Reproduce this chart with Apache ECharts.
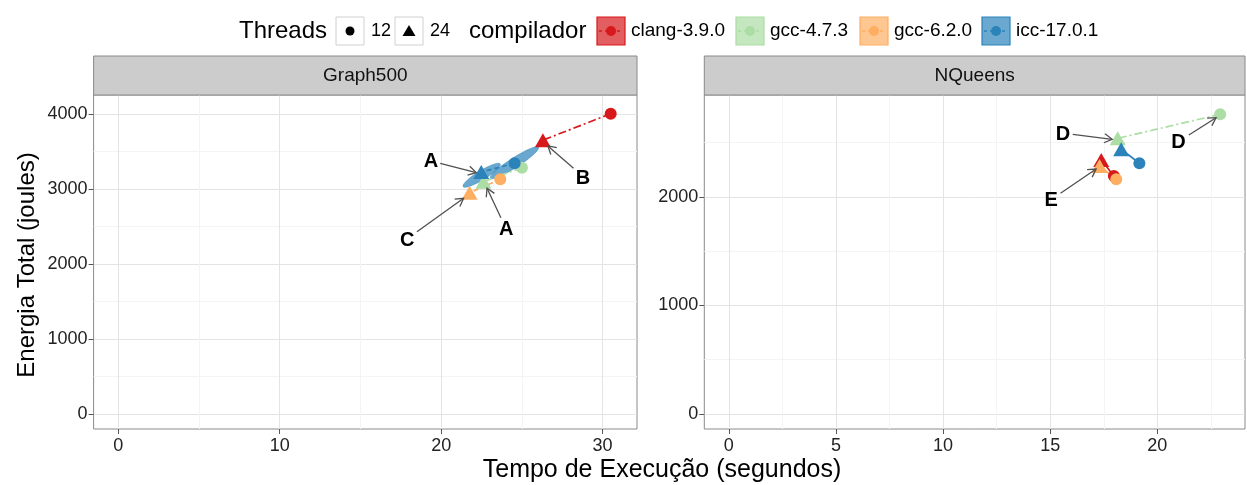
<!DOCTYPE html>
<html><head><meta charset="utf-8">
<script src="https://cdn.jsdelivr.net/npm/echarts@6/dist/echarts.min.js"></script>
<style>html,body{margin:0;padding:0;background:#fff}#c{width:1247px;height:485px}</style>
</head><body><div id="c"></div>
<script>
// ---------------- data ----------------
const compilers = ['clang-3.9.0', 'gcc-4.7.3', 'gcc-6.2.0', 'icc-17.0.1'];
const threadLevels = ['12', '24'];
const panels = ['Graph500', 'NQueens'];
// Graph500 : time (s) and energy (J) per compiler
const g500Time12 = [30.5, 25.0, 23.66, 24.55];
const g500Energy12 = [4000, 3281, 3127, 3340];
const g500Time24 = [26.3, 22.62, 21.76, 22.48];
const g500Energy24 = [3648, 3095, 2948, 3224];
// NQueens
const nqTime12 = [17.97, 22.93, 18.08, 19.16];
const nqEnergy12 = [2192, 2760, 2161, 2309];
const nqTime24 = [17.38, 18.15, 17.30, 18.31];
const nqEnergy24 = [2339, 2539, 2284, 2438];
// icc confidence ellipses (Graph500): centre, major-axis end, minor-axis end
const iccEllCentre = [[22.51, 3180], [24.54, 3347]];
const iccEllMajor = [[23.66, 3331], [26.03, 3553]];
const iccEllMinor = [[22.66, 3128], [24.70, 3292]];
// annotations: label, label position, arrow start, arrow end
const g500AnnLabel = ['A', 'B', 'C', 'A'];
const g500AnnText = [[19.37, 3361], [28.78, 3140], [17.9, 2317], [24.03, 2464]];
const g500AnnFrom = [[19.94, 3340], [28.2, 3273], [18.5, 2428], [23.7, 2615]];
const g500AnnTo = [[22.17, 3215], [26.61, 3571], [21.39, 2873], [22.84, 3007]];
const nqAnnLabel = ['D', 'D', 'E'];
const nqAnnText = [[15.59, 2570], [20.98, 2499], [15.04, 1970]];
const nqAnnFrom = [[16.05, 2576], [21.47, 2570], [15.48, 2032]];
const nqAnnTo = [[17.89, 2530], [22.74, 2729], [17.14, 2256]];
// axis ticks
const g500XTicks = [0, 10, 20, 30];
const g500YTicks = [0, 1000, 2000, 3000, 4000];
const nqXTicks = [0, 5, 10, 15, 20];
const nqYTicks = [0, 1000, 2000];
const xTitle = 'Tempo de Execução (segundos)';
const yTitle = 'Energia Total (joules)';

// ---------------- style ----------------
const F = 'Liberation Sans, Arial, Helvetica, sans-serif';
const colors = ['#D7191C', '#ABDDA4', '#FDAE61', '#2B83BA'];
const fills = ['rgba(215,25,28,0.7)', 'rgba(171,221,164,0.7)', 'rgba(253,174,97,0.7)', 'rgba(43,131,186,0.7)'];
const dotdash = [8, 3, 2, 3];
const lineTypes = [
  [dotdash, dotdash, [5, 3], [5, 3]],
  ['solid', dotdash, 'solid', 'solid']
];
const G = [
  {left: 93.6, top: 95, width: 543.4, height: 334},
  {left: 704.3, top: 95, width: 540.7, height: 334}
];
const ranges = [
  {x: [-1.53, 32.13], y: [-202, 4250], xs: 3, ys: 4},
  {x: [-1.147, 24.09], y: [-140, 2938], xs: 5, ys: 3}
];

function axis(gi, r, split, ticks, isX) {
  return {
    type: 'value', gridIndex: gi, min: r[0], max: r[1], splitNumber: split,
    axisLine: {show: false, onZero: false},
    axisTick: {show: true, length: 5, lineStyle: {color: '#555', width: 1}, customValues: ticks},
    axisLabel: {customValues: ticks, color: '#222', fontSize: 18, fontFamily: F, margin: isX ? 8 : 6,
      formatter: v => (ticks.indexOf(v) >= 0 ? String(v) : '')},
    splitLine: {show: true, lineStyle: {color: '#e4e4e4', width: 1}},
    minorTick: {show: false, splitNumber: 2},
    minorSplitLine: {show: true, lineStyle: {color: '#f4f4f4', width: 1}}
  };
}

const series = [];
const pdata = [
  [g500Time12, g500Energy12, g500Time24, g500Energy24],
  [nqTime12, nqEnergy12, nqTime24, nqEnergy24]
];
// ellipses
series.push({
  type: 'custom', xAxisIndex: 0, yAxisIndex: 0, z: 2,
  data: iccEllCentre.map((c, i) => [c[0], c[1], i]),
  renderItem: function (params, api) {
    const i = params.dataIndex;
    const c = api.coord(iccEllCentre[i]);
    const a = api.coord(iccEllMajor[i]);
    const b = api.coord(iccEllMinor[i]);
    const ux = a[0] - c[0], uy = a[1] - c[1], vx = b[0] - c[0], vy = b[1] - c[1];
    const pts = [];
    for (let k = 0; k < 60; k++) {
      const t = k / 60 * Math.PI * 2;
      pts.push([c[0] + ux * Math.cos(t) + vx * Math.sin(t), c[1] + uy * Math.cos(t) + vy * Math.sin(t)]);
    }
    return {type: 'polygon', shape: {points: pts}, style: {fill: fills[3], stroke: 'rgba(43,131,186,0.6)', lineWidth: 0.8}};
  }
});
for (let p = 0; p < 2; p++) {
  const d = pdata[p];
  for (let i = 0; i < compilers.length; i++) {
    series.push({
      type: 'line', name: compilers[i], xAxisIndex: p, yAxisIndex: p, z: 3,
      data: [[d[0][i], d[1][i]], [d[2][i], d[3][i]]],
      symbol: 'none', silent: true, animation: false,
      lineStyle: {color: colors[i], width: 1.7, type: lineTypes[p][i]}
    });
  }
  for (let i = 0; i < compilers.length; i++) {
    series.push({
      type: 'scatter', name: compilers[i], xAxisIndex: p, yAxisIndex: p, z: 4,
      data: [[d[0][i], d[1][i]]], symbol: 'circle', symbolSize: 12,
      itemStyle: {color: colors[i], opacity: 1}
    });
    series.push({
      type: 'scatter', name: compilers[i], xAxisIndex: p, yAxisIndex: p, z: 4,
      data: [[d[2][i], d[3][i]]], symbol: 'triangle', symbolSize: [16, 14],
      itemStyle: {color: colors[i], opacity: 1}
    });
  }
}
// annotations
const ann = [
  [g500AnnLabel, g500AnnText, g500AnnFrom, g500AnnTo],
  [nqAnnLabel, nqAnnText, nqAnnFrom, nqAnnTo]
];
for (let p = 0; p < 2; p++) {
  const [lab, txt, from, to] = ann[p];
  series.push({
    type: 'custom', xAxisIndex: p, yAxisIndex: p, z: 6,
    data: from.map((f, i) => [f[0], f[1], to[i][0], to[i][1]]),
    encode: {x: [0, 2], y: [1, 3]},
    renderItem: function (params, api) {
      const p1 = api.coord([api.value(0), api.value(1)]);
      const p2 = api.coord([api.value(2), api.value(3)]);
      const ang = Math.atan2(p2[1] - p1[1], p2[0] - p1[0]);
      const L = 9, a = Math.PI / 6;
      const h1 = [p2[0] - L * Math.cos(ang - a), p2[1] - L * Math.sin(ang - a)];
      const h2 = [p2[0] - L * Math.cos(ang + a), p2[1] - L * Math.sin(ang + a)];
      return {type: 'group', children: [
        {type: 'line', shape: {x1: p1[0], y1: p1[1], x2: p2[0], y2: p2[1]}, style: {stroke: '#505050', lineWidth: 1.3}},
        {type: 'polyline', shape: {points: [h1, p2, h2]}, style: {stroke: '#505050', lineWidth: 1.3, fill: null}}
      ]};
    }
  });
  series.push({
    type: 'custom', xAxisIndex: p, yAxisIndex: p, z: 6,
    data: txt.map(t => [t[0], t[1]]),
    renderItem: function (params, api) {
      const c = api.coord([api.value(0), api.value(1)]);
      return {type: 'text', x: c[0], y: c[1], style: {text: lab[params.dataIndex], fontSize: 20, fontWeight: 'bold',
        fontFamily: F, fill: '#000', align: 'center', verticalAlign: 'middle', textAlign: 'center', textVerticalAlign: 'middle'}};
    }
  });
}

// ---------------- graphics: strips, titles, legend ----------------
const graphic = [];
for (let p = 0; p < 2; p++) {
  graphic.push({type: 'rect', shape: {x: G[p].left, y: 56, width: G[p].width, height: 39},
    style: {fill: '#cccccc', stroke: '#8a8a8a', lineWidth: 1}, z: 10});
  graphic.push({type: 'text', x: G[p].left + G[p].width / 2, y: 76, z: 11,
    style: {text: panels[p], fontSize: 19, fontFamily: F, fill: '#111', align: 'center', verticalAlign: 'middle'}});
}
graphic.push({type: 'text', x: 662, y: 470, style: {text: xTitle, fontSize: 25, fontFamily: F, fill: '#000', align: 'center', verticalAlign: 'middle'}});
graphic.push({type: 'text', x: 27, y: 265, rotation: Math.PI / 2, style: {text: yTitle, fontSize: 24, fontFamily: F, fill: '#000', align: 'center', verticalAlign: 'middle'}});
// legend
const LY = 31;
graphic.push({type: 'text', x: 239, y: LY, style: {text: 'Threads', fontSize: 24, fontFamily: F, fill: '#000', align: 'left', verticalAlign: 'middle'}});
const thrBoxX = [336, 395];
for (let k = 0; k < 2; k++) {
  const bx = thrBoxX[k];
  graphic.push({type: 'rect', shape: {x: bx, y: LY - 14, width: 28, height: 28}, style: {fill: '#fff', stroke: '#d0d0d0', lineWidth: 1}});
  if (k === 0) graphic.push({type: 'circle', shape: {cx: bx + 14, cy: LY, r: 4.5}, style: {fill: '#000'}});
  else graphic.push({type: 'polygon', shape: {points: [[bx + 14, LY - 6], [bx + 20.5, LY + 5], [bx + 7.5, LY + 5]]}, style: {fill: '#000'}});
  graphic.push({type: 'text', x: bx + 35, y: LY, style: {text: threadLevels[k], fontSize: 18, fontFamily: F, fill: '#000', align: 'left', verticalAlign: 'middle'}});
}
graphic.push({type: 'text', x: 469, y: LY, style: {text: 'compilador', fontSize: 24, fontFamily: F, fill: '#000', align: 'left', verticalAlign: 'middle'}});
const compBoxX = [597, 736, 860, 982];
for (let i = 0; i < 4; i++) {
  const bx = compBoxX[i];
  graphic.push({type: 'rect', shape: {x: bx, y: LY - 14, width: 28, height: 28}, style: {fill: fills[i], stroke: colors[i], lineWidth: 1.2}});
  graphic.push({type: 'line', shape: {x1: bx + 2, y1: LY, x2: bx + 26, y2: LY}, style: {stroke: colors[i], lineWidth: 1.4, lineDash: [3, 3]}});
  graphic.push({type: 'circle', shape: {cx: bx + 14, cy: LY, r: 5}, style: {fill: colors[i]}});
  graphic.push({type: 'text', x: bx + 34, y: LY, style: {text: compilers[i], fontSize: 19, fontFamily: F, fill: '#000', align: 'left', verticalAlign: 'middle'}});
}

const option = {
  animation: false,
  backgroundColor: '#fff',
  textStyle: {fontFamily: F},
  grid: G.map(g => Object.assign({show: true, borderColor: '#8a8a8a', borderWidth: 1, backgroundColor: '#fff', containLabel: false}, g)),
  xAxis: [axis(0, ranges[0].x, ranges[0].xs, g500XTicks, true), axis(1, ranges[1].x, ranges[1].xs, nqXTicks, true)],
  yAxis: [axis(0, ranges[0].y, ranges[0].ys, g500YTicks, false), axis(1, ranges[1].y, ranges[1].ys, nqYTicks, false)],
  series: series,
  graphic: graphic
};
const chart = echarts.init(document.getElementById('c'), null, {renderer: 'canvas'});
chart.setOption(option);
</script></body></html>
